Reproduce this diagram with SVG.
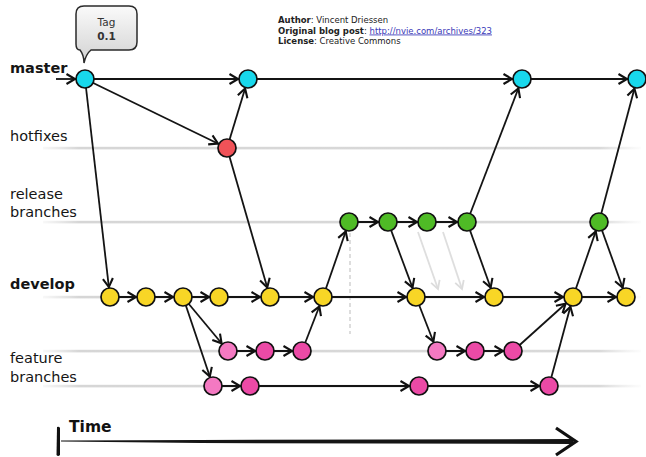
<svg xmlns="http://www.w3.org/2000/svg" width="646" height="457" viewBox="0 0 646 457">
<style>
.lbl{font-family:"DejaVu Sans",sans-serif;font-size:14.5px;fill:#151515}
.b{font-weight:bold}
.hdr{font-family:"DejaVu Sans",sans-serif;font-size:8.5px;fill:#222}
.c line{stroke:#141414;stroke-width:1.8;marker-end:url(#ah);fill:none}
.n circle{stroke:#111;stroke-width:1.7}
.m circle{fill:#18d8ec}
.h circle{fill:#f05258}
.r circle{fill:#4fbb26}
.d circle{fill:#f8d626}
.f circle{fill:#ec4aa6}
.f1 circle{fill:#f479c2}
.lane{fill:url(#lg)}
</style>
<defs>
<linearGradient id="lg" x1="0" y1="0" x2="1" y2="0">
<stop offset="0" stop-color="#dcdcdc" stop-opacity="0.2"/>
<stop offset="0.06" stop-color="#d6d6d6"/>
<stop offset="0.93" stop-color="#d9d9d9"/>
<stop offset="1" stop-color="#e4e4e4" stop-opacity="0.1"/>
</linearGradient>
<linearGradient id="tg" x1="0" y1="0" x2="0" y2="1">
<stop offset="0" stop-color="#fafafa"/>
<stop offset="1" stop-color="#d2d2d2"/>
</linearGradient>
<marker id="ah" viewBox="-22 -8 24 16" markerWidth="24" markerHeight="16" refX="0" refY="0" orient="auto" markerUnits="userSpaceOnUse">
<path d="M-18.5,-5 L-10,0 L-18.5,5" fill="none" stroke="#111" stroke-width="2.1"/>
</marker>
<marker id="ahg" viewBox="-10 -6 12 12" markerWidth="12" markerHeight="12" refX="0" refY="0" orient="auto" markerUnits="userSpaceOnUse">
<path d="M-8,-4.5 L0,0 L-8,4.5" fill="none" stroke="#dcdcdc" stroke-width="1.8"/>
</marker>
</defs>
<rect width="646" height="457" fill="#fff"/>

<g id="lanes">
<rect class="lane" x="43" y="146.8" width="598" height="2.6"/>
<rect class="lane" x="43" y="220.8" width="598" height="2.6"/>
<rect class="lane" x="43" y="295.8" width="598" height="2.6"/>
<rect class="lane" x="43" y="349.8" width="598" height="2.6"/>
<rect class="lane" x="43" y="384.8" width="598" height="2.6"/>
</g>

<g id="labels">
<text class="lbl b" x="10" y="73">master</text>
<text class="lbl" x="10" y="141">hotfixes</text>
<text class="lbl" x="10" y="199">release</text>
<text class="lbl" x="10" y="217">branches</text>
<text class="lbl b" x="10" y="289">develop</text>
<text class="lbl" x="10" y="363">feature</text>
<text class="lbl" x="10" y="382">branches</text>
</g>

<g id="header">
<text class="hdr" x="278" y="23"><tspan font-weight="bold">Author</tspan>: Vincent Driessen</text>
<text class="hdr" x="278" y="33.5"><tspan font-weight="bold">Original blog post</tspan>: <tspan fill="#3a3ab8" text-decoration="underline">http://nvie.com/archives/323</tspan></text>
<text class="hdr" x="278" y="44"><tspan font-weight="bold">License</tspan>: Creative Commons</text>
</g>

<g id="tag">
<path d="M84,6 H129 Q137,6 137,14 V42 Q137,50 129,50 H91 Q86,54 84,63 Q84,55 80,50 Q76,50 76,44 V14 Q76,6 84,6 Z" fill="url(#tg)" stroke="#2a2a2a" stroke-width="1.5"/>
<text x="106.5" y="26" text-anchor="middle" font-family="DejaVu Sans,sans-serif" font-size="10.5" fill="#333">Tag</text>
<text x="106.5" y="40" text-anchor="middle" font-family="DejaVu Sans,sans-serif" font-size="10.5" font-weight="bold" fill="#333">0.1</text>
</g>

<g id="extras">
<line x1="350" y1="233" x2="350" y2="334" stroke="#cfcfcf" stroke-width="1.4" stroke-dasharray="4,3"/>
<line x1="418" y1="232" x2="438" y2="289" stroke="#dedede" stroke-width="1.8" marker-end="url(#ahg)"/>
<line x1="443" y1="232" x2="462" y2="289" stroke="#dedede" stroke-width="1.8" marker-end="url(#ahg)"/>
</g>

<g id="connectors" class="c">
<line x1="56" y1="79" x2="85" y2="79"/>
<line x1="85" y1="79" x2="248" y2="79"/>
<line x1="85" y1="79" x2="227" y2="148"/>
<line x1="227" y1="148" x2="248" y2="79"/>
<line x1="85" y1="79" x2="110" y2="297"/>
<line x1="227" y1="148" x2="270" y2="297"/>
<line x1="248" y1="79" x2="522" y2="79"/>
<line x1="522" y1="79" x2="637" y2="79"/>
<line x1="467" y1="222" x2="522" y2="79"/>
<line x1="599" y1="222" x2="637" y2="79"/>
<line x1="110" y1="297" x2="146" y2="297"/>
<line x1="146" y1="297" x2="183" y2="297"/>
<line x1="183" y1="297" x2="219" y2="297"/>
<line x1="219" y1="297" x2="270" y2="297"/>
<line x1="270" y1="297" x2="323" y2="297"/>
<line x1="323" y1="297" x2="416" y2="297"/>
<line x1="416" y1="297" x2="494" y2="297"/>
<line x1="494" y1="297" x2="573" y2="297"/>
<line x1="573" y1="297" x2="626" y2="297"/>
<line x1="183" y1="297" x2="228" y2="351"/>
<line x1="183" y1="297" x2="213" y2="386"/>
<line x1="228" y1="351" x2="265" y2="351"/>
<line x1="265" y1="351" x2="302" y2="351"/>
<line x1="302" y1="351" x2="323" y2="297"/>
<line x1="323" y1="297" x2="349" y2="222"/>
<line x1="349" y1="222" x2="388" y2="222"/>
<line x1="388" y1="222" x2="427" y2="222"/>
<line x1="427" y1="222" x2="467" y2="222"/>
<line x1="388" y1="222" x2="416" y2="297"/>
<line x1="467" y1="222" x2="494" y2="297"/>
<line x1="416" y1="297" x2="437" y2="351"/>
<line x1="437" y1="351" x2="475" y2="351"/>
<line x1="475" y1="351" x2="513" y2="351"/>
<line x1="513" y1="351" x2="573" y2="297"/>
<line x1="213" y1="386" x2="250" y2="386"/>
<line x1="250" y1="386" x2="419" y2="386"/>
<line x1="419" y1="386" x2="549" y2="386"/>
<line x1="549" y1="386" x2="573" y2="297"/>
<line x1="573" y1="297" x2="599" y2="222"/>
<line x1="599" y1="222" x2="626" y2="297"/>
</g>

<g id="nodes">
<g id="m1" class="n m"><circle cx="85" cy="79" r="9"/></g>
<g id="m2" class="n m"><circle cx="248" cy="79" r="9"/></g>
<g id="m3" class="n m"><circle cx="522" cy="79" r="9"/></g>
<g id="m4" class="n m"><circle cx="637" cy="79" r="9"/></g>
<g id="h1" class="n h"><circle cx="227" cy="148" r="9"/></g>
<g id="r1" class="n r"><circle cx="349" cy="222" r="9"/></g>
<g id="r2" class="n r"><circle cx="388" cy="222" r="9"/></g>
<g id="r3" class="n r"><circle cx="427" cy="222" r="9"/></g>
<g id="r4" class="n r"><circle cx="467" cy="222" r="9"/></g>
<g id="r5" class="n r"><circle cx="599" cy="222" r="9"/></g>
<g id="d1" class="n d"><circle cx="110" cy="297" r="9"/></g>
<g id="d2" class="n d"><circle cx="146" cy="297" r="9"/></g>
<g id="d3" class="n d"><circle cx="183" cy="297" r="9"/></g>
<g id="d4" class="n d"><circle cx="219" cy="297" r="9"/></g>
<g id="d5" class="n d"><circle cx="270" cy="297" r="9"/></g>
<g id="d6" class="n d"><circle cx="323" cy="297" r="9"/></g>
<g id="d7" class="n d"><circle cx="416" cy="297" r="9"/></g>
<g id="d8" class="n d"><circle cx="494" cy="297" r="9"/></g>
<g id="d9" class="n d"><circle cx="573" cy="297" r="9"/></g>
<g id="d10" class="n d"><circle cx="626" cy="297" r="9"/></g>
<g id="fa1" class="n f1"><circle cx="228" cy="351" r="9"/></g>
<g id="fa2" class="n f"><circle cx="265" cy="351" r="9"/></g>
<g id="fa3" class="n f"><circle cx="302" cy="351" r="9"/></g>
<g id="fc1" class="n f1"><circle cx="437" cy="351" r="9"/></g>
<g id="fc2" class="n f"><circle cx="475" cy="351" r="9"/></g>
<g id="fc3" class="n f"><circle cx="513" cy="351" r="9"/></g>
<g id="fb1" class="n f1"><circle cx="213" cy="386" r="9"/></g>
<g id="fb2" class="n f"><circle cx="250" cy="386" r="9"/></g>
<g id="fb3" class="n f"><circle cx="419" cy="386" r="9"/></g>
<g id="fb4" class="n f"><circle cx="549" cy="386" r="9"/></g>
</g>

<g id="time">
<text x="69" y="432" font-family="DejaVu Sans,sans-serif" font-size="15.5" font-weight="bold" fill="#111">Time</text>
<path d="M57,427 Q59,426 60,428 L60,455 Q58,457 56.5,455 Z" fill="#111"/>
<path d="M61,440.6 L200,440 L573,439 L573,444 L200,443 L61,441.6 Z" fill="#151515"/>
<path d="M556,428 L576,441.5 L556,455" fill="none" stroke="#111" stroke-width="3.2" stroke-linejoin="miter"/>
</g>
</svg>
